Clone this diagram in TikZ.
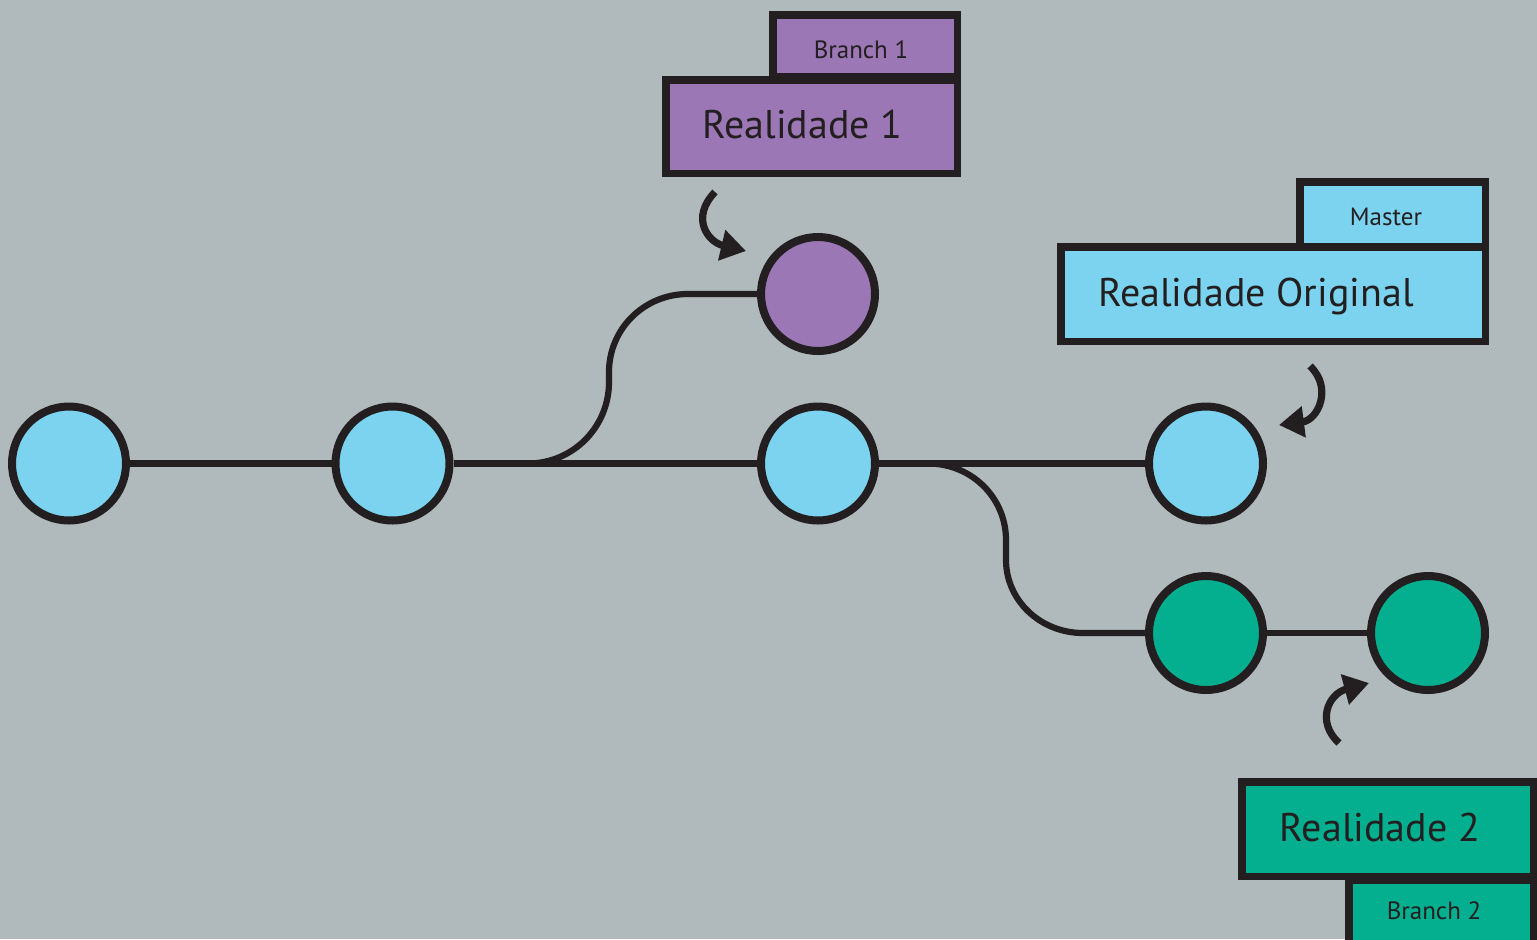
\documentclass[tikz,border=0pt]{standalone}
\usepackage{fontspec}
\setmainfont{PT Sans}
\usetikzlibrary{arrows.meta,fit}
\definecolor{bgc}{RGB}{176,185,187}
\definecolor{blu}{RGB}{123,211,239}
\definecolor{pur}{RGB}{156,119,181}
\definecolor{grn}{RGB}{4,175,143}
\definecolor{drk}{RGB}{35,31,32}
\tikzset{
  commit/.style={circle, draw=drk, line width=4pt, minimum size=57pt, inner sep=0pt},
  link/.style={draw=drk, line width=3.4pt},
  blink/.style={draw=drk, line width=3.1pt},
  labelbox/.style={draw=drk, line width=3.75pt, inner sep=0pt},
  bigtxt/.style={font=\fontsize{20}{24}\selectfont, text=drk, inner sep=0pt, anchor=base},
  smalltxt/.style={font=\fontsize{12.5}{15}\selectfont, text=drk, inner sep=0pt, anchor=base},
  pointer/.style={draw=drk, line width=3.6pt, -{Triangle[length=12.5pt,width=15pt]}}
}
\begin{document}
\begin{tikzpicture}[x=0.5pt,y=-0.5pt]
\fill[bgc] (0,0) rectangle (1537,939);
\useasboundingbox (0,0) rectangle (1537,939);
\clip (0,0) rectangle (1537,939);

% commits
\node[commit, fill=blu] (c1) at (69,463.5) {};
\node[commit, fill=blu] (c2) at (392.5,463.5) {};
\node[commit, fill=blu] (c3) at (818,463.5) {};
\node[commit, fill=blu] (c4) at (1206,463.5) {};
\node[commit, fill=pur] (p1) at (818,294) {};
\node[commit, fill=grn] (g1) at (1206,633) {};
\node[commit, fill=grn] (g2) at (1428,633) {};

% main line
\draw[link] (c1) -- (c2);
\draw[link] (c2) -- (c3);
\draw[link] (c3) -- (c4);
\draw[link] (g1) -- (g2);

% branch up
\coordinate (bu) at (528,463.5);
\draw[blink] (bu) .. controls (573,463.5) and (609,427) .. (609,382)
  -- (609,372) .. controls (609,329) and (644,294) .. (688,294) -- (p1);
% branch down
\coordinate (bd) at (928,463.5);
\draw[blink] (bd) .. controls (972,463.5) and (1006,498) .. (1006,540)
  -- (1006,560) .. controls (1006,600) and (1040,633) .. (1083,633) -- (g1);

% label boxes
\node[labelbox, fill=pur, fit={(772.75,14.75) (957.25,76.25)}] (b1) {};
\node[labelbox, fill=pur, fit={(665.75,79.75) (957.25,173.25)}] (r1) {};
\node[labelbox, fill=blu, fit={(1299.75,181.75) (1485.25,247.25)}] (bm) {};
\node[labelbox, fill=blu, fit={(1060.75,246.75) (1485.25,341.25)}] (rm) {};
\node[labelbox, fill=grn, fit={(1348.75,879.75) (1533.25,960)}] (b2) {};
\node[labelbox, fill=grn, fit={(1241.75,781.75) (1533.25,876.25)}] (r2) {};

% texts
\node[smalltxt] (tb1) at (861,58) {Branch 1};
\node[bigtxt] (tr1) at (802.5,138.5) {Realidade 1};
\node[smalltxt] (tbm) at (1386,225) {Master};
\node[bigtxt] (trm) at (1256,306.5) {Realidade Original};
\node[bigtxt] (tr2) at (1380,841.5) {Realidade 2};
\node[smalltxt] (tb2) at (1434,919.5) {Branch 2};

% pointer arrows
\coordinate (a1s) at (715,192);
\coordinate (a1e) at (746,251);
\draw[pointer] (a1s) .. controls (690,218) and (708,242) .. (a1e);
\coordinate (a2s) at (1310,366);
\coordinate (a2e) at (1279,425);
\draw[pointer] (a2s) .. controls (1333,388) and (1318,420) .. (a2e);
\coordinate (a3s) at (1339,743);
\coordinate (a3e) at (1369,683);
\draw[pointer] (a3s) .. controls (1316,722) and (1328,694) .. (a3e);
\end{tikzpicture}
\end{document}
